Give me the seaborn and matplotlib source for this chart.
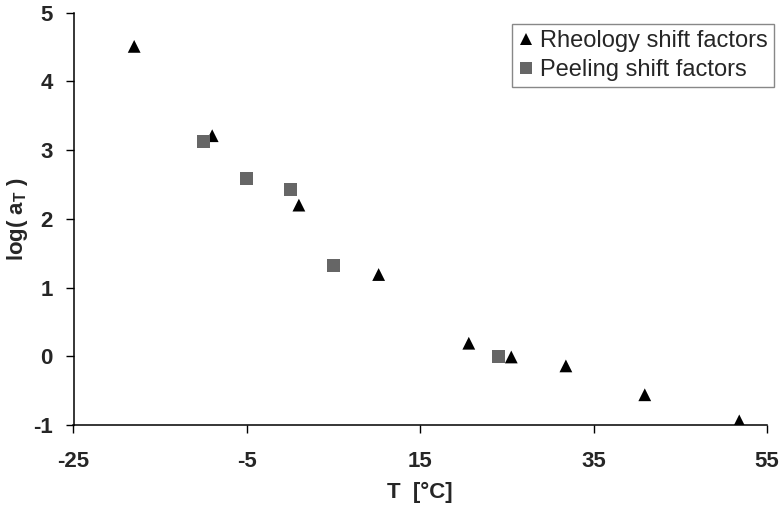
import matplotlib
matplotlib.use("Agg")
import matplotlib.pyplot as plt
import seaborn as sns
import pandas as pd

# Data
rheo_T = [-18, -9, 1, 10.2, 20.6, 25.5, 31.8, 40.9, 51.8]
rheo_logaT = [4.51, 3.21, 2.2, 1.19, 0.19, -0.01, -0.14, -0.56, -0.94]
peel_T = [-10, -5, 0, 5, 24]
peel_logaT = [3.12, 2.59, 2.43, 1.32, 0.0]
series_names = ["Rheology shift factors", "Peeling shift factors"]
x_ticks = [-25, -5, 15, 35, 55]
y_ticks = [-1, 0, 1, 2, 3, 4, 5]

df = pd.DataFrame({
    "T": rheo_T + peel_T,
    "logaT": rheo_logaT + peel_logaT,
    "series": [series_names[0]] * len(rheo_T) + [series_names[1]] * len(peel_T),
})

sns.set_style("ticks")
plt.rcParams["font.family"] = ["Liberation Sans", "DejaVu Sans"]
plt.rcParams["axes.unicode_minus"] = False
plt.rcParams["mathtext.fontset"] = "custom"
plt.rcParams["mathtext.rm"] = "Liberation Sans:bold"
plt.rcParams["mathtext.bf"] = "Liberation Sans:bold"
plt.rcParams["mathtext.it"] = "Liberation Sans:bold"

fig = plt.figure(figsize=(7.84, 5.08), dpi=100)
ax = fig.add_axes([73.5 / 784, 1 - 425 / 508, (767 - 73.5) / 784, (425 - 12.7) / 508])

sns.scatterplot(
    data=df, x="T", y="logaT", hue="series", style="series",
    palette={series_names[0]: "black", series_names[1]: "#666666"},
    markers={series_names[0]: "^", series_names[1]: "s"},
    s=85, linewidth=0, ax=ax, legend=True,
)

ax.set_xlim(-25, 55)
ax.set_ylim(-1, 5)
ax.set_xticks(x_ticks)
ax.set_yticks(y_ticks)
for lab in ax.get_xticklabels() + ax.get_yticklabels():
    lab.set_fontweight("bold")
    lab.set_fontsize(16)
ax.tick_params(axis="both", direction="out", length=6, width=1, color="black")
ax.tick_params(axis="y", pad=9)
ax.tick_params(axis="x", pad=13)

for side in ["top", "right"]:
    ax.spines[side].set_visible(False)
for side in ["left", "bottom"]:
    ax.spines[side].set_color("black")
    ax.spines[side].set_linewidth(1.1)

ax.set_xlabel("T  [°C]", fontsize=16, fontweight="bold")
ax.set_ylabel(r"log( a$_{\mathrm{T}}$ )", fontsize=16, fontweight="bold")
ax.xaxis.set_label_coords(0.5, -0.137)
ax.yaxis.set_label_coords(-0.063, 0.5)

leg = ax.legend(
    loc="upper right", bbox_to_anchor=(773.7 / 784, 1 - 24.3 / 508),
    bbox_transform=fig.transFigure, borderaxespad=0, fontsize=17,
    frameon=True, fancybox=False, edgecolor="#888888", framealpha=1,
    handlelength=0.7, handletextpad=0.25, borderpad=0.25, labelspacing=0.3,
    markerscale=1.0,
)
leg.get_frame().set_linewidth(1.0)

fig.savefig("out.png", dpi=100)
